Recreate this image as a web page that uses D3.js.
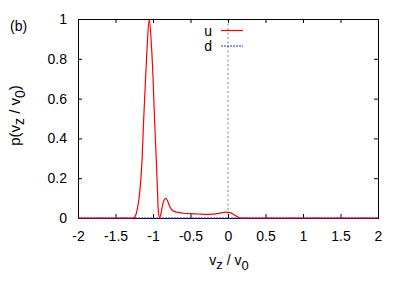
<!DOCTYPE html>
<html>
<head>
<meta charset="utf-8">
<script src="https://cdn.jsdelivr.net/npm/d3@7"></script>
<style>
  body { margin: 0; background: #fff; }
  svg text { font-family: "Liberation Sans", Arial, sans-serif; fill: #000; }
</style>
</head>
<body>
<svg id="chart" width="407" height="285"></svg>
<script>
// series u
const uX = [-2, -1.3, -1.258, -1.235, -1.212, -1.178, -1.146, -1.125, -1.098, -1.076, -1.05,
            -1.023, -1.0, -0.979, -0.956, -0.939, -0.93, -0.912, -0.895, -0.87, -0.845, -0.827,
            -0.81, -0.78, -0.748, -0.7, -0.66, -0.6, -0.5, -0.4, -0.3, -0.2, -0.12, -0.06,
            -0.02, 0.03, 0.08, 0.13, 0.18, 2];
const uY = [0, 0, 0, 0.01, 0.04, 0.125, 0.29, 0.49, 0.71, 0.88, 1.0,
            0.88, 0.71, 0.49, 0.29, 0.125, 0.04, 0, 0.02, 0.07, 0.095, 0.099,
            0.09, 0.06, 0.04, 0.031, 0.028, 0.024, 0.022, 0.02, 0.018, 0.019, 0.023, 0.028,
            0.03, 0.027, 0.016, 0.005, 0, 0];
// series d (flat on zero)
const dX = [-2, 2];
const dY = [0, 0];

const xTicks = [-2, -1.5, -1, -0.5, 0, 0.5, 1, 1.5, 2];
const yTicks = [0, 0.2, 0.4, 0.6, 0.8, 1];

const margin = { top: 19, right: 29, bottom: 67, left: 78 };
const W = 407, H = 285;
const w = W - margin.left - margin.right;
const h = H - margin.top - margin.bottom;

const svg = d3.select("#chart");
const g = svg.append("g").attr("transform", `translate(${margin.left},${margin.top})`);

const x = d3.scaleLinear().domain([-2, 2]).range([0, w]);
const y = d3.scaleLinear().domain([0, 1]).range([h, 0]);

// dotted zero line
g.append("line")
  .attr("x1", x(0)).attr("x2", x(0))
  .attr("y1", 0).attr("y2", h)
  .attr("stroke", "#999").attr("stroke-width", 1.2)
  .attr("stroke-dasharray", "2,2.5");

// axes, ticks pointing inward
const fs = "14px";
const plain = d => String(d);   // keep the plain hyphen as minus
const axBottom = g.append("g").attr("transform", `translate(0,${h})`)
  .call(d3.axisBottom(x).tickValues(xTicks).tickSize(-4).tickPadding(10).tickFormat(plain));
const axTop = g.append("g")
  .call(d3.axisTop(x).tickValues(xTicks).tickSize(-4).tickFormat(""));
const axLeft = g.append("g")
  .call(d3.axisLeft(y).tickValues(yTicks).tickSize(-4).tickPadding(10).tickFormat(plain));
const axRight = g.append("g").attr("transform", `translate(${w},0)`)
  .call(d3.axisRight(y).tickValues(yTicks).tickSize(-4).tickFormat(""));

[axBottom, axTop, axLeft, axRight].forEach(a => {
  a.attr("font-family", null).attr("font-size", null);
  a.selectAll("text").style("font-size", fs);
  a.selectAll("path, line").attr("stroke", "#000");
});
axBottom.selectAll("text").attr("dy", "0.9em");
axLeft.selectAll("text").attr("dx", "-1");

const line = d3.line().curve(d3.curveMonotoneX);

// d series
g.append("path")
  .attr("d", line(dX.map((v, i) => [x(v), y(dY[i])])))
  .attr("fill", "none").attr("stroke", "#2222ff").attr("stroke-width", 1)
  .attr("stroke-dasharray", "2,1");

// u series
g.append("path")
  .attr("d", line(uX.map((v, i) => [x(v), y(uY[i])])))
  .attr("fill", "none").attr("stroke", "#ff0000").attr("stroke-width", 1.2);

// legend
const legend = [
  { name: "u", color: "#ff0000", dash: null, yy: 30.5 },
  { name: "d", color: "#2222ff", dash: "2,1", yy: 46 }
];
legend.forEach(l => {
  svg.append("text").attr("x", 212).attr("y", l.yy + 5)
    .attr("text-anchor", "end").style("font-size", fs).text(l.name);
  svg.append("line").attr("x1", 221).attr("x2", 243)
    .attr("y1", l.yy).attr("y2", l.yy)
    .attr("stroke", l.color).attr("stroke-width", l.dash ? 1 : 1.2)
    .attr("stroke-dasharray", l.dash);
});

// axis titles
const xt = svg.append("text").attr("x", 229).attr("y", 265)
  .attr("text-anchor", "middle").style("font-size", fs);
xt.append("tspan").text("v");
xt.append("tspan").attr("dy", 4).style("font-size", "13px").text("z");
xt.append("tspan").attr("dy", -4).text(" / v");
xt.append("tspan").attr("dy", 5).style("font-size", "13px").text("0");

const yt = svg.append("text")
  .attr("transform", `translate(20,115.5) rotate(-90)`)
  .attr("text-anchor", "middle").style("font-size", "15px");
yt.append("tspan").text("p(v");
yt.append("tspan").attr("dy", 4).style("font-size", "14px").text("z");
yt.append("tspan").attr("dy", -4).text(" / v");
yt.append("tspan").attr("dy", 5).style("font-size", "14px").text("0");
yt.append("tspan").attr("dy", -5).text(")");

svg.append("text").attr("x", 10).attr("y", 31).style("font-size", fs).text("(b)");
</script>
</body>
</html>
